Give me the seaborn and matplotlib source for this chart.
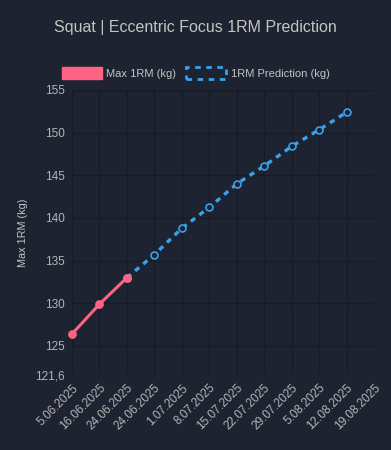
import pandas as pd
import matplotlib
matplotlib.use('Agg')
import matplotlib.pyplot as plt
from matplotlib.patches import Patch
import seaborn as sns

# datos
fechas = ['5.06.2025', '16.06.2025', '24.06.2025', '24.06.2025', '1.07.2025',
          '8.07.2025', '15.07.2025', '22.07.2025', '29.07.2025', '5.08.2025',
          '12.08.2025', '19.08.2025']
max_1rm = [126.4, 129.9, 133.0]
prediccion = [133.0, 135.7, 138.8, 141.25, 144.0, 146.1, 148.4, 150.35, 152.4]
pred_inicio = 2

y_ticks = [121.6, 125, 130, 135, 140, 145, 150, 155]

fondo = '#1e2331'
rosa = '#ff6384'
azul = '#36a2eb'
texto = '#c4c4c4'

sns.set_theme(style='dark')
plt.rcParams['font.family'] = ['Liberation Sans', 'DejaVu Sans']

df_real = pd.DataFrame({'idx': range(len(max_1rm)), 'valor': max_1rm})
df_pred = pd.DataFrame({'idx': range(pred_inicio, pred_inicio + len(prediccion)),
                        'valor': prediccion})

fig = plt.figure(figsize=(3.91, 4.5), dpi=100, facecolor=fondo)
ax = fig.add_axes([0.184, 0.1667, 0.773, 0.6333])
ax.set_facecolor(fondo)

sns.lineplot(data=df_pred, x='idx', y='valor', ax=ax, color=azul, linewidth=2.4,
             linestyle=(0, (1.6, 1.6)), marker='o', markersize=5,
             markerfacecolor=fondo, markeredgecolor=azul, markeredgewidth=1.2)
sns.lineplot(data=df_real, x='idx', y='valor', ax=ax, color=rosa, linewidth=2.2,
             marker='o', markersize=5.5, markeredgecolor=rosa, clip_on=False)

ax.set_xlim(0, len(fechas) - 1)
ax.set_ylim(121.6, 155)
ax.set_xticks(range(len(fechas)))
ax.set_xticklabels(fechas, rotation=45, ha='right', rotation_mode='anchor')
ax.set_yticks(y_ticks)
ax.set_yticklabels([f'{v:g}'.replace('.', ',') for v in y_ticks])
ax.tick_params(colors='#b4b4b4', labelsize=8.5, length=0, pad=5)
ax.grid(True, color='#171b24', linewidth=0.9)
for s in ax.spines.values():
    s.set_visible(False)
ax.set_xlabel('')
ax.set_ylabel('Max 1RM (kg)', color=texto, fontsize=7.8, labelpad=5)

fig.suptitle('Squat | Eccentric Focus 1RM Prediction', color=texto, fontsize=11.5,
             y=0.955)

handles = [Patch(facecolor=rosa, edgecolor=rosa),
           Patch(facecolor=fondo, edgecolor=azul, linestyle=(0, (2, 2)), linewidth=2)]
fig.legend(handles, ['Max 1RM (kg)', '1RM Prediction (kg)'], loc='center',
           bbox_to_anchor=(0.5, 0.838), ncol=2, frameon=False, fontsize=8,
           labelcolor=texto, handlelength=3.6, handleheight=1.2, handletextpad=0.4,
           columnspacing=0.9)

fig.savefig('out.png', dpi=100, facecolor=fondo)
